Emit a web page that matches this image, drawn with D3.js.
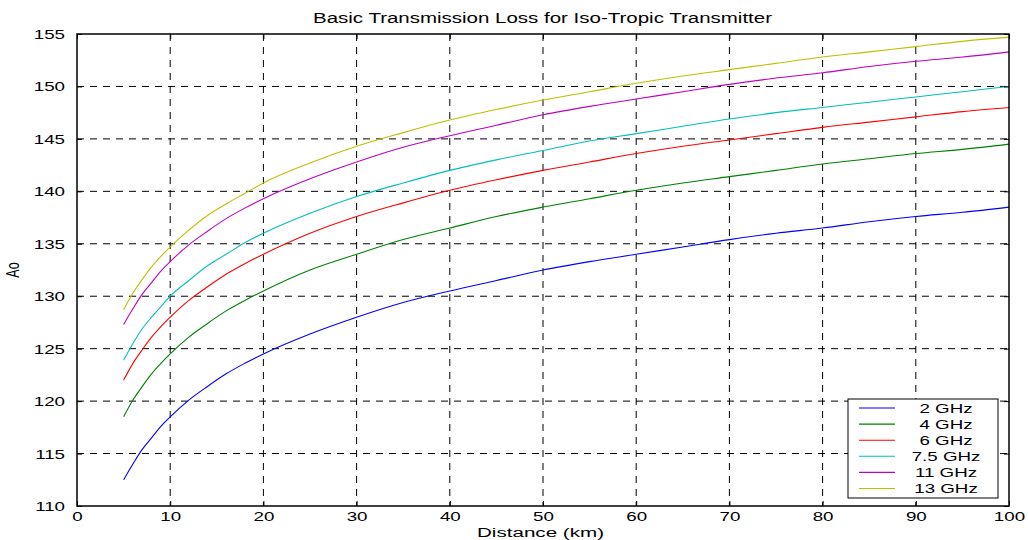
<!DOCTYPE html>
<html>
<head>
<meta charset="utf-8">
<script src="https://cdn.jsdelivr.net/npm/d3@7"></script>
<style>
  body { margin: 0; background: #fff; }
  text { font-family: "Liberation Sans", Arial, sans-serif; fill: #000; }
</style>
</head>
<body>
<div id="chart"></div>
<script>
// distances in km
var distances = [5, 6, 7, 8, 9, 10, 12, 14, 16, 18, 20, 25, 30, 35, 40, 45, 50, 55, 60, 65, 70, 75, 80, 85, 90, 95, 100];

var loss2 = [112.5, 114.0, 115.4, 116.5, 117.6, 118.5, 120.1, 121.4, 122.6, 123.6, 124.5, 126.4, 128.0, 129.4, 130.5, 131.5, 132.5, 133.3, 134.0, 134.7, 135.4, 136.0, 136.5, 137.1, 137.6, 138.0, 138.5];
var loss4 = [118.5, 120.1, 121.4, 122.6, 123.6, 124.5, 126.1, 127.4, 128.6, 129.6, 130.5, 132.5, 134.0, 135.4, 136.5, 137.6, 138.5, 139.3, 140.1, 140.8, 141.4, 142.0, 142.6, 143.1, 143.6, 144.0, 144.5];
var loss6 = [122.0, 123.6, 124.9, 126.1, 127.1, 128.0, 129.6, 130.9, 132.1, 133.1, 134.0, 136.0, 137.6, 138.9, 140.1, 141.1, 142.0, 142.8, 143.6, 144.3, 144.9, 145.5, 146.1, 146.6, 147.1, 147.6, 148.0];
var loss75 = [123.9, 125.5, 126.9, 128.0, 129.0, 130.0, 131.5, 132.9, 134.0, 135.1, 136.0, 137.9, 139.5, 140.8, 142.0, 143.0, 143.9, 144.8, 145.5, 146.2, 146.9, 147.5, 148.0, 148.5, 149.0, 149.5, 150.0];
var loss11 = [127.3, 128.8, 130.2, 131.3, 132.4, 133.3, 134.9, 136.2, 137.4, 138.4, 139.3, 141.2, 142.8, 144.2, 145.3, 146.3, 147.3, 148.1, 148.8, 149.5, 150.2, 150.8, 151.3, 151.9, 152.4, 152.8, 153.3];
var loss13 = [128.7, 130.3, 131.6, 132.8, 133.8, 134.7, 136.3, 137.7, 138.8, 139.8, 140.8, 142.7, 144.3, 145.6, 146.8, 147.8, 148.7, 149.5, 150.3, 151.0, 151.6, 152.2, 152.8, 153.3, 153.8, 154.3, 154.7];

var seriesNames = ["2 GHz", "4 GHz", "6 GHz", "7.5 GHz", "11 GHz", "13 GHz"];
var seriesValues = [loss2, loss4, loss6, loss75, loss11, loss13];
var seriesColors = ["#0000ff", "#008000", "#ff0000", "#00bfbf", "#bf00bf", "#bfbf00"];

var xTicks = [0, 10, 20, 30, 40, 50, 60, 70, 80, 90, 100];
var yTicks = [110, 115, 120, 125, 130, 135, 140, 145, 150, 155];

var W = 1028, H = 540;
var margin = { top: 34, right: 19, bottom: 34, left: 77 };
var width = W - margin.left - margin.right;
var height = H - margin.top - margin.bottom;
var SX = 1.5; // the picture is stretched horizontally

var svg = d3.select("#chart").append("svg")
  .attr("width", W)
  .attr("height", H);

var g = svg.append("g")
  .attr("transform", `translate(${margin.left},${margin.top})`);

var x = d3.scaleLinear().domain([0, 100]).range([0, width]);
var y = d3.scaleLinear().domain([110, 155]).range([height, 0]);

// grid
g.append("g")
  .selectAll("line")
  .data(xTicks.slice(1, -1))
  .enter().append("line")
  .attr("x1", d => x(d)).attr("x2", d => x(d))
  .attr("y1", 0).attr("y2", height)
  .attr("stroke", "#000")
  .attr("stroke-dasharray", "7,6");

g.append("g")
  .selectAll("line")
  .data(yTicks.slice(1, -1))
  .enter().append("line")
  .attr("y1", d => y(d)).attr("y2", d => y(d))
  .attr("x1", 0).attr("x2", width)
  .attr("stroke", "#000")
  .attr("stroke-dasharray", "7,6");

// curves
var line = d3.line()
  .x((d, i) => x(distances[i]))
  .y(d => y(d))
  .curve(d3.curveMonotoneX);

g.append("g")
  .selectAll("path")
  .data(seriesValues)
  .enter().append("path")
  .attr("d", d => line(d))
  .attr("fill", "none")
  .attr("stroke", (d, i) => seriesColors[i])
  .attr("stroke-width", 1.1);

// axes with inward ticks
var xAxis = g.append("g")
  .attr("transform", `translate(0,${height})`)
  .call(d3.axisBottom(x).tickValues(xTicks).tickSize(-5).tickPadding(6));
var xAxisTop = g.append("g")
  .call(d3.axisTop(x).tickValues(xTicks).tickSize(-5).tickFormat(""));
var yAxis = g.append("g")
  .call(d3.axisLeft(y).tickValues(yTicks).tickSize(-5).tickPadding(11));
var yAxisRight = g.append("g")
  .attr("transform", `translate(${width},0)`)
  .call(d3.axisRight(y).tickValues(yTicks).tickSize(-5).tickFormat(""));

[xAxis, xAxisTop, yAxis, yAxisRight].forEach(a => {
  a.select(".domain").remove();
  a.selectAll(".tick line").attr("stroke", "#000");
});

// stretch tick labels horizontally
xAxis.selectAll(".tick text")
  .attr("font-size", "12.5px")
  .attr("font-family", "Liberation Sans, Arial, sans-serif")
  .attr("transform", `scale(${SX},1)`)
  .attr("dy", "0.71em");
yAxis.selectAll(".tick text")
  .attr("font-size", "12.5px")
  .attr("font-family", "Liberation Sans, Arial, sans-serif")
  .attr("transform", `translate(-6,0) scale(${SX},1)`)
  .attr("x", -4)
  .attr("dy", "0.36em");

// frame
g.append("rect")
  .attr("width", width)
  .attr("height", height)
  .attr("fill", "none")
  .attr("stroke", "#000")
  .attr("stroke-width", 1.5);

// title and labels
svg.append("text")
  .attr("x", 313).attr("y", 23)
  .attr("font-size", "14px")
  .attr("textLength", 459)
  .attr("lengthAdjust", "spacingAndGlyphs")
  .text("Basic Transmission Loss for Iso-Tropic Transmitter");

svg.append("text")
  .attr("x", 477).attr("y", 537)
  .attr("font-size", "12.5px")
  .attr("textLength", 127)
  .attr("lengthAdjust", "spacingAndGlyphs")
  .text("Distance (km)");

svg.append("text")
  .attr("transform", `translate(19,${margin.top + height / 2}) scale(${SX},1) rotate(-90)`)
  .attr("text-anchor", "middle")
  .attr("font-size", "12.5px")
  .text("Ao");

// legend
var lg = svg.append("g");
lg.append("rect")
  .attr("x", 848).attr("y", 399)
  .attr("width", 150).attr("height", 99)
  .attr("fill", "#fff")
  .attr("stroke", "#000")
  .attr("stroke-width", 1);

var item = lg.selectAll(".item")
  .data(seriesNames)
  .enter().append("g")
  .attr("transform", (d, i) => `translate(0,${408 + i * 16.1})`);

item.append("line")
  .attr("x1", 859).attr("x2", 895)
  .attr("stroke", (d, i) => seriesColors[i])
  .attr("stroke-width", 1.1);

item.append("text")
  .attr("transform", `translate(946,0) scale(${SX},1)`)
  .attr("text-anchor", "middle")
  .attr("dy", "0.36em")
  .attr("font-size", "12.5px")
  .text(d => d);
</script>
</body>
</html>
